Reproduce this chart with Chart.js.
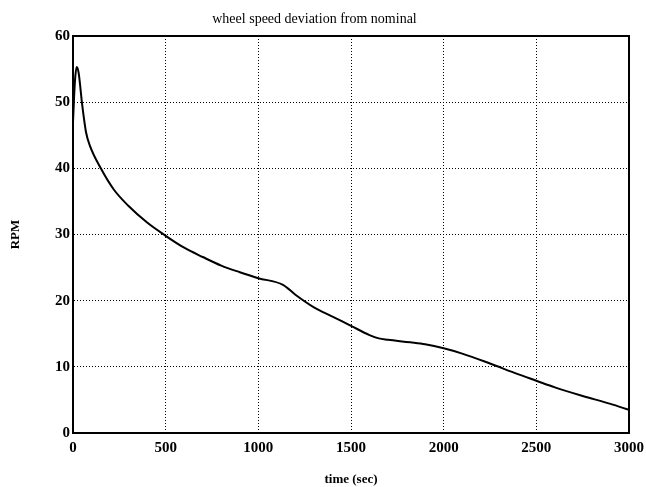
<!DOCTYPE html>
<html>
<head>
<meta charset="utf-8">
<script src="https://cdn.jsdelivr.net/npm/chart.js@4.4.1/dist/chart.umd.min.js"></script>
<style>
  html, body { margin: 0; padding: 0; background: #fff; }
  #wrap { width: 646px; height: 487px; }
</style>
</head>
<body>
<div id="wrap"><canvas id="c" width="646" height="487"></canvas></div>
<script>
// time (sec) and wheel speed deviation (RPM)
const timeSec = [0, 10, 20, 30, 50, 70, 90, 150, 220, 300, 400, 500, 600, 700, 800, 900, 1000,
  1133, 1200, 1300, 1400, 1500, 1600, 1650, 1700, 1820, 1900, 2000, 2100, 2250, 2400, 2500,
  2600, 2750, 2900, 3000];
const rpm = [47, 53, 55.3, 54.5, 49.5, 45.5, 43.5, 40, 36.8, 34.3, 31.8, 29.8, 28, 26.6, 25.3, 24.3, 23.4,
  22.4, 20.9, 19.0, 17.6, 16.2, 14.8, 14.3, 14.1, 13.7, 13.4, 12.8, 12.0, 10.5, 8.9, 7.9,
  6.9, 5.6, 4.4, 3.5];
const xTicks = [0, 500, 1000, 1500, 2000, 2500, 3000];
const yTicks = [0, 10, 20, 30, 40, 50, 60];

const serif = "'Liberation Serif', 'DejaVu Serif', serif";

// box around the plot area (top and right edges)
const frame = {
  id: 'frame',
  afterDraw(chart) {
    const a = chart.chartArea, ctx = chart.ctx;
    ctx.save();
    ctx.strokeStyle = '#000';
    ctx.lineWidth = 2;
    ctx.strokeRect(a.left, a.top, a.right - a.left, a.bottom - a.top);
    ctx.restore();
  }
};

new Chart(document.getElementById('c'), {
  type: 'line',
  data: {
    datasets: [{
      data: timeSec.map((t, i) => ({ x: t, y: rpm[i] })),
      borderColor: '#000',
      borderWidth: 2,
      pointRadius: 0,
      cubicInterpolationMode: 'monotone',
      fill: false
    }]
  },
  options: {
    responsive: false,
    animation: false,
    layout: { padding: { left: 0, right: 17, top: 0, bottom: 0 } },
    plugins: {
      legend: { display: false },
      tooltip: { enabled: false },
      title: {
        display: true,
        text: 'wheel speed deviation from nominal',
        color: '#000',
        font: { family: serif, size: 14, weight: 'normal', lineHeight: 1.2 },
        padding: { top: 11, bottom: 8.2 }
      }
    },
    scales: {
      x: {
        type: 'linear',
        min: 0, max: 3000,
        afterBuildTicks: s => { s.ticks = xTicks.map(v => ({ value: v })); },
        afterFit: s => { s.height = 54; s.paddingRight = 0; s.paddingLeft = 0; },
        grid: { color: '#000', lineWidth: 1, drawTicks: false },
        border: { display: true, color: '#000', width: 2, dash: [1, 2] },
        ticks: { color: '#000', padding: 6, maxRotation: 0, callback: v => String(v),
                 font: { family: serif, size: 15, weight: 'bold' } },
        title: { display: true, text: 'time (sec)', color: '#000', padding: 0,
                 font: { family: serif, size: 13, weight: 'bold', lineHeight: 1.1 } }
      },
      y: {
        min: 0, max: 60,
        afterBuildTicks: s => { s.ticks = yTicks.map(v => ({ value: v })); },
        afterFit: s => { s.width = 73; },
        grid: { color: '#000', lineWidth: 1, drawTicks: false },
        border: { display: true, color: '#000', width: 2, dash: [1, 2] },
        ticks: { color: '#000', padding: 3, callback: v => String(v),
                 font: { family: serif, size: 15, weight: 'bold' } },
        title: { display: true, text: 'RPM', color: '#000', padding: { top: 8, bottom: 0 },
                 font: { family: serif, size: 13, weight: 'bold', lineHeight: 1.1 } }
      }
    }
  },
  plugins: [frame]
});
</script>
</body>
</html>
